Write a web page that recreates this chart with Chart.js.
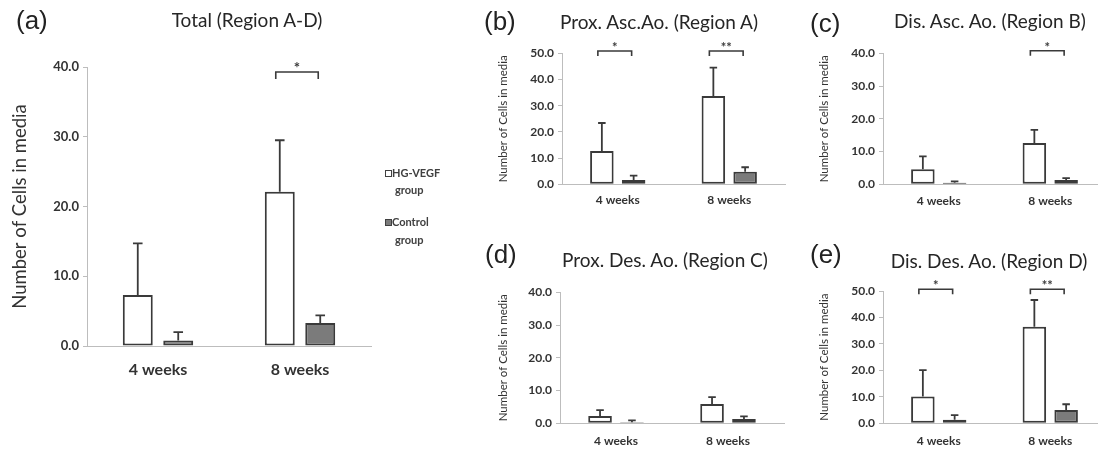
<!DOCTYPE html>
<html>
<head>
<meta charset="utf-8">
<script src="https://cdn.jsdelivr.net/npm/chart.js@4.4.0/dist/chart.umd.min.js"></script>
<style>
html,body{margin:0;padding:0;background:#fff;width:1098px;height:450px;overflow:hidden;position:relative}
canvas{position:absolute}
.plabel{position:absolute;font-family:'Liberation Sans',Arial,sans-serif;font-size:26px;line-height:26px;color:#222;white-space:nowrap}
.ptitle{position:absolute;width:320px;text-align:center;font-family:Lato,'Open Sans',sans-serif;font-size:19px;line-height:22px;color:#262626;white-space:nowrap}
.lg{position:absolute;font-family:Lato,'Open Sans',sans-serif;font-weight:bold;font-size:11px;line-height:13px;color:#404040;white-space:nowrap}
.sw{position:absolute;width:5px;height:5px;border:1px solid #404040}
</style>
</head>
<body>
<canvas id="cA"></canvas>
<canvas id="cB"></canvas>
<canvas id="cC"></canvas>
<canvas id="cD"></canvas>
<canvas id="cE"></canvas>

<div class="plabel" style="left:16px;top:7px">(a)</div>
<div class="plabel" style="left:484px;top:8px">(b)</div>
<div class="plabel" style="left:810px;top:10px">(c)</div>
<div class="plabel" style="left:485px;top:241px">(d)</div>
<div class="plabel" style="left:810px;top:241px">(e)</div>

<div id="tA" class="ptitle" style="left:87px;top:9px"></div>
<div id="tB" class="ptitle" style="left:499px;top:11px"></div>
<div id="tC" class="ptitle" style="left:830px;top:10px"></div>
<div id="tD" class="ptitle" style="left:505px;top:249px"></div>
<div id="tE" class="ptitle" style="left:829px;top:250px"></div>

<div class="sw" style="left:385px;top:170px;background:#fff"></div>
<div class="lg" style="left:392px;top:166px">HG-VEGF</div>
<div class="lg" style="left:395px;top:183px">group</div>
<div class="sw" style="left:385px;top:219px;background:#7b7b7b"></div>
<div class="lg" style="left:392px;top:215px">Control</div>
<div class="lg" style="left:395px;top:233px">group</div>

<script>
// ---------- data ----------
const categories = ['4 weeks', '8 weeks'];
const groupNames = ['HG-VEGF group', 'Control group'];
const yAxisTitle = 'Number of Cells in media';

// (a) Total (Region A-D)
const totalTitle = 'Total (Region A-D)';
const totalHG = [7.3, 22.1];
const totalHGErr = [7.4, 7.4];
const totalCtrl = [0.8, 3.3];
const totalCtrlErr = [1.2, 1.1];
const totalSig = ['', '*'];
const totalTicks = [0, 10, 20, 30, 40];

// (b) Prox. Asc.Ao. (Region A)
const regATitle = 'Prox. Asc.Ao. (Region A)';
const regAHG = [12.7, 33.7];
const regAHGErr = [10.7, 10.8];
const regACtrl = [1.6, 4.8];
const regACtrlErr = [1.7, 1.7];
const regASig = ['*', '**'];
const regATicks = [0, 10, 20, 30, 40, 50];

// (c) Dis. Asc. Ao. (Region B)
const regBTitle = 'Dis. Asc. Ao. (Region B)';
const regBHG = [4.6, 12.6];
const regBHGErr = [3.9, 4.0];
const regBCtrl = [0.5, 1.3];
const regBCtrlErr = [0.4, 0.6];
const regBSig = ['', '*'];
const regBTicks = [0, 10, 20, 30, 40];

// (d) Prox. Des. Ao. (Region C)
const regCTitle = 'Prox. Des. Ao. (Region C)';
const regCHG = [2.2, 5.9];
const regCHGErr = [1.8, 2.1];
const regCCtrl = [0.3, 1.3];
const regCCtrlErr = [0.6, 0.8];
const regCSig = ['', ''];
const regCTicks = [0, 10, 20, 30, 40];

// (e) Dis. Des. Ao. (Region D)
const regDTitle = 'Dis. Des. Ao. (Region D)';
const regDHG = [10.1, 36.5];
const regDHGErr = [10.0, 10.1];
const regDCtrl = [1.3, 5.0];
const regDCtrlErr = [1.8, 2.2];
const regDSig = ['*', '**'];
const regDTicks = [0, 10, 20, 30, 40, 50];

// ---------- styles ----------
const FONT = "Lato, 'Open Sans', sans-serif";
const TEXT = '#333333';
const EDGE = '#3a3a3a';
const AXIS = '#bdbdbd';
const CTRL_FILL = '#7b7b7b';

const errorBarPlugin = {
  id: 'errorBars',
  afterDatasetsDraw(chart, args, opts) {
    const ctx = chart.ctx, ys = chart.scales.y;
    chart.data.datasets.forEach((ds, i) => {
      const meta = chart.getDatasetMeta(i);
      meta.data.forEach((bar, j) => {
        const v = ds.data[j], e = ds.errors[j];
        const yTop = ys.getPixelForValue(v + e);
        const yBar = ys.getPixelForValue(v);
        const cap = bar.width * opts.capRatio;
        ctx.save();
        ctx.strokeStyle = opts.color;
        ctx.lineWidth = opts.width;
        ctx.beginPath();
        ctx.moveTo(bar.x, yBar); ctx.lineTo(bar.x, yTop);
        ctx.moveTo(bar.x - cap / 2, yTop); ctx.lineTo(bar.x + cap / 2, yTop);
        ctx.stroke();
        ctx.restore();
      });
    });
  }
};

const bracketPlugin = {
  id: 'sigBrackets',
  afterDatasetsDraw(chart, args, opts) {
    const marks = opts.marks || [];
    const ctx = chart.ctx, top = chart.chartArea.top;
    const m0 = chart.getDatasetMeta(0), m1 = chart.getDatasetMeta(1);
    marks.forEach((mk, j) => {
      if (!mk) return;
      const x0 = m0.data[j].x - 4, x1 = m1.data[j].x - 2;
      const yb = top + opts.offset;
      ctx.save();
      ctx.strokeStyle = opts.color;
      ctx.lineWidth = 1.6;
      ctx.beginPath();
      ctx.moveTo(x0, yb + opts.tip); ctx.lineTo(x0, yb); ctx.lineTo(x1, yb); ctx.lineTo(x1, yb + opts.tip);
      ctx.stroke();
      ctx.fillStyle = opts.color;
      ctx.font = 'bold ' + opts.starSize + 'px ' + FONT;
      ctx.textAlign = 'center';
      ctx.textBaseline = 'alphabetic';
      ctx.fillText(mk, (x0 + x1) / 2, yb + opts.starDy);
      ctx.restore();
    });
  }
};

function makePanel(id, titleId, P, D) {
  document.getElementById(titleId).textContent = D.title;
  const cv = document.getElementById(id);
  cv.width = P.w; cv.height = P.h;
  cv.style.left = P.left + 'px'; cv.style.top = P.top + 'px';
  cv.style.width = P.w + 'px'; cv.style.height = P.h + 'px';
  new Chart(cv, {
    type: 'bar',
    data: {
      labels: categories,
      datasets: [
        { label: groupNames[0], data: D.hg, errors: D.hgErr, backgroundColor: '#ffffff',
          borderColor: EDGE, borderWidth: 2, borderSkipped: false,
          categoryPercentage: 0.57, barPercentage: 0.74 },
        { label: groupNames[1], data: D.ctrl, errors: D.ctrlErr, backgroundColor: CTRL_FILL,
          borderColor: EDGE, borderWidth: 2, borderSkipped: false,
          categoryPercentage: 0.57, barPercentage: 0.74 }
      ]
    },
    options: {
      responsive: false, animation: false, devicePixelRatio: 1,
      layout: { padding: { left: 0, right: P.padRight, top: P.padTop, bottom: 0 } },
      plugins: {
        legend: { display: false },
        tooltip: { enabled: false },
        title: { display: false },
        errorBars: { color: EDGE, width: 1.8, capRatio: 0.32 },
        sigBrackets: { marks: D.sig, color: EDGE, offset: P.brOffset, tip: P.brTip,
          starSize: P.starSize, starDy: 1 }
      },
      scales: {
        x: {
          grid: { display: false, drawTicks: false, tickLength: 0 },
          border: { display: true, color: AXIS, width: 1 },
          ticks: { color: TEXT, font: { family: FONT, size: P.xFont, weight: 'bold' }, padding: P.xPad },
          afterFit(s) { s.height = P.xH; }
        },
        y: {
          min: D.ticks[0], max: D.ticks[D.ticks.length - 1],
          ticks: { stepSize: D.ticks[1] - D.ticks[0], callback: v => Number(v).toFixed(1),
            color: TEXT, font: { family: FONT, size: P.yFont, weight: 'bold' }, padding: 4 },
          grid: { display: true, drawOnChartArea: false, drawTicks: true, tickLength: 4, color: AXIS },
          border: { display: true, color: AXIS, width: 1 },
          title: { display: true, text: yAxisTitle, color: '#333',
            font: { family: FONT, size: P.ytFont, weight: 'normal', lineHeight: 1.2 },
            padding: { top: P.ytPad, bottom: 0 } },
          afterFit(s) { s.width = P.yW; }
        }
      }
    },
    plugins: [errorBarPlugin, bracketPlugin]
  });
}

makePanel('cA', 'tA',
  { left: 7, top: 0, w: 480, h: 390, yW: 80, xH: 44, padRight: 116, padTop: 67,
    xFont: 16, xPad: 14.5, yFont: 13,
    ytFont: 18.5, ytPad: 2, brOffset: 5, brTip: 7, starSize: 15 },
  { title: totalTitle, hg: totalHG, hgErr: totalHGErr, ctrl: totalCtrl, ctrlErr: totalCtrlErr, sig: totalSig, ticks: totalTicks });

makePanel('cB', 'tB',
  { left: 495, top: 0, w: 328, h: 215, yW: 67, xH: 30.7, padRight: 38, padTop: 53.3,
    xFont: 12, xPad: 9, yFont: 12,
    ytFont: 11.5, ytPad: 1.5, brOffset: -2.3, brTip: 5, starSize: 13 },
  { title: regATitle, hg: regAHG, hgErr: regAHGErr, ctrl: regACtrl, ctrlErr: regACtrlErr, sig: regASig, ticks: regATicks });

makePanel('cC', 'tC',
  { left: 816, top: 0, w: 348, h: 215, yW: 67, xH: 30.7, padRight: 58, padTop: 53.3,
    xFont: 12, xPad: 10, yFont: 12,
    ytFont: 11.5, ytPad: 1.7, brOffset: -2.6, brTip: 5, starSize: 13 },
  { title: regBTitle, hg: regBHG, hgErr: regBHGErr, ctrl: regBCtrl, ctrlErr: regBCtrlErr, sig: regBSig, ticks: regBTicks });

makePanel('cD', 'tD',
  { left: 493, top: 230, w: 344, h: 220, yW: 67, xH: 26.7, padRight: 53, padTop: 62.3,
    xFont: 12, xPad: 11, yFont: 12,
    ytFont: 11.5, ytPad: 3.2, brOffset: -2, brTip: 5, starSize: 13 },
  { title: regCTitle, hg: regCHG, hgErr: regCHGErr, ctrl: regCCtrl, ctrlErr: regCCtrlErr, sig: regCSig, ticks: regCTicks });

makePanel('cE', 'tE',
  { left: 816, top: 230, w: 346, h: 220, yW: 67, xH: 26.7, padRight: 56, padTop: 61,
    xFont: 12, xPad: 11, yFont: 12,
    ytFont: 11.5, ytPad: 1.7, brOffset: -1.7, brTip: 5, starSize: 13 },
  { title: regDTitle, hg: regDHG, hgErr: regDHGErr, ctrl: regDCtrl, ctrlErr: regDCtrlErr, sig: regDSig, ticks: regDTicks });
</script>
</body>
</html>
